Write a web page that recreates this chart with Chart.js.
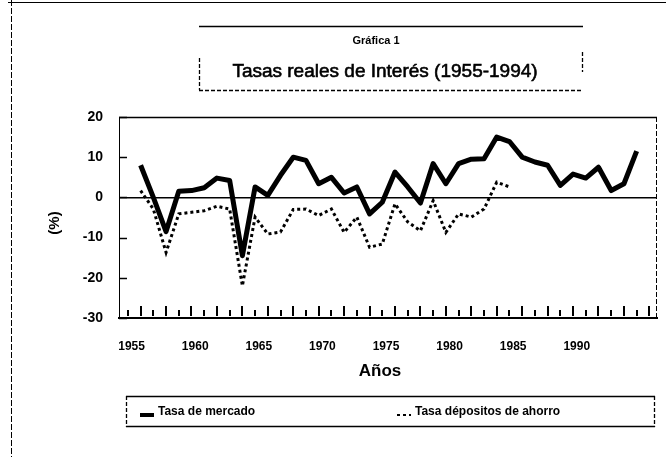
<!DOCTYPE html>
<html>
<head>
<meta charset="utf-8">
<script src="https://cdn.jsdelivr.net/npm/chart.js@4/dist/chart.umd.min.js"></script>
<style>
  html, body { margin: 0; padding: 0; background: #fff; }
  #wrap { width: 666px; height: 457px; position: relative; }
</style>
</head>
<body>
<div id="wrap"><canvas id="tasas"></canvas></div>
<script>
// ─── Data ─────────────────────────────────────────────────────────────
const YEARS = [1955, 1956, 1957, 1958, 1959, 1960, 1961, 1962, 1963, 1964,
               1965, 1966, 1967, 1968, 1969, 1970, 1971, 1972, 1973, 1974,
               1975, 1976, 1977, 1978, 1979, 1980, 1981, 1982, 1983, 1984,
               1985, 1986, 1987, 1988, 1989, 1990, 1991, 1992, 1993, 1994];

const TASA_MERCADO = [8, 0, -8.5, 1.5, 1.7, 2.4, 4.8, 4.2, -14.5, 2.6,
                      0.5, 5.5, 10, 9.2, 3.4, 5, 1.1, 2.6, -4.1, -1.2,
                      6.3, 2.6, -1.4, 8.4, 3.4, 8.4, 9.5, 9.6, 15, 13.9,
                      10, 8.8, 8, 3, 5.8, 4.8, 7.5, 1.7, 3.4, 11.5];

const TASA_AHORRO = [1.7, -2.9, -13.7, -4.1, -3.7, -3.3, -2.2, -2.9, -22, -4.9,
                     -9.1, -8.6, -3, -2.9, -4.5, -2.9, -8.7, -4.9, -12.4, -11.6,
                     -1.6, -6.1, -8.3, -0.8, -8.7, -4.1, -4.9, -2.9, 3.8, 2.6,
                     null, null, null, null, null, null, null, null, null, null];

const X_LABELS = [1955, 1960, 1965, 1970, 1975, 1980, 1985, 1990];
const Y_TICKS = [20, 10, 0, -10, -20, -30];

const FONT = "'Liberation Sans', Arial, sans-serif";
const FONT_N = "'Liberation Sans Narrow', 'Liberation Sans', Arial, sans-serif";

// ─── Decorations: frame, title box, inside ticks, legend box ──────────
const decor = {
    id: 'decor',
    afterDraw(chart) {
        const { ctx, chartArea: a, scales: { x, y } } = chart;
        ctx.save();
        ctx.strokeStyle = '#000';
        ctx.fillStyle = '#000';

        // page frame
        ctx.lineWidth = 1;
        ctx.beginPath(); ctx.moveTo(8, 2.5); ctx.lineTo(666, 2.5); ctx.stroke();
        ctx.setLineDash([6, 2]);
        ctx.beginPath(); ctx.moveTo(11.5, 0); ctx.lineTo(11.5, 457); ctx.stroke();
        ctx.setLineDash([]);

        // title box
        ctx.lineWidth = 1.3;
        ctx.beginPath(); ctx.moveTo(199, 26.5); ctx.lineTo(583, 26.5); ctx.stroke();
        ctx.setLineDash([4, 2]);
        ctx.beginPath(); ctx.moveTo(199, 90.5); ctx.lineTo(583, 90.5); ctx.stroke();
        ctx.beginPath(); ctx.moveTo(199.5, 58); ctx.lineTo(199.5, 90); ctx.stroke();
        ctx.beginPath(); ctx.moveTo(582.5, 52); ctx.lineTo(582.5, 72); ctx.stroke();
        ctx.setLineDash([]);
        ctx.textAlign = 'center';
        ctx.textBaseline = 'middle';
        ctx.font = 'bold 11px ' + FONT;
        ctx.fillText('Gráfica 1', 376, 41);
        ctx.font = '19px ' + FONT;
        ctx.lineWidth = 0.6;
        ctx.fillText('Tasas reales de Interés (1955-1994)', 385, 72);
        ctx.strokeText('Tasas reales de Interés (1955-1994)', 385, 72);

        // plot box: top solid, right dashed
        ctx.lineWidth = 1.5;
        ctx.beginPath(); ctx.moveTo(a.left, a.top + 0.5); ctx.lineTo(a.right, a.top + 0.5); ctx.stroke();
        ctx.lineWidth = 1;
        ctx.setLineDash([5, 2]);
        ctx.beginPath(); ctx.moveTo(a.right - 0.5, a.top); ctx.lineTo(a.right - 0.5, a.bottom); ctx.stroke();
        ctx.setLineDash([]);

        // inside ticks
        ctx.lineWidth = 1.5;
        Y_TICKS.forEach(v => {
            const py = Math.round(y.getPixelForValue(v)) + 0.5;
            ctx.beginPath(); ctx.moveTo(a.left, py); ctx.lineTo(a.left + 8, py); ctx.stroke();
        });
        ctx.lineWidth = 2;
        for (let yr = 1954; yr <= 1995; yr++) {
            const px = Math.round(x.getPixelForValue(yr));
            const h = yr % 2 ? 10 : 6;
            ctx.beginPath(); ctx.moveTo(px, a.bottom - 2); ctx.lineTo(px, a.bottom - 2 - h); ctx.stroke();
        }

        // axis titles
        ctx.font = 'bold 17px ' + FONT_N;
        ctx.fillText('Años', 380, 371);
        ctx.save();
        ctx.translate(55, 223);
        ctx.rotate(-Math.PI / 2);
        ctx.font = 'bold 15px ' + FONT;
        ctx.fillText('(%)', 0, 0);
        ctx.restore();

        // legend box
        const lb = { l: 126, t: 396, r: 655, b: 427 };
        ctx.lineWidth = 1.3;
        ctx.beginPath(); ctx.moveTo(lb.l, lb.t + 0.5); ctx.lineTo(lb.r, lb.t + 0.5); ctx.stroke();
        ctx.beginPath(); ctx.moveTo(lb.l, lb.b - 0.5); ctx.lineTo(lb.r, lb.b - 0.5); ctx.stroke();
        ctx.setLineDash([4, 2]);
        ctx.beginPath(); ctx.moveTo(lb.l + 0.5, lb.t); ctx.lineTo(lb.l + 0.5, lb.b); ctx.stroke();
        ctx.beginPath(); ctx.moveTo(lb.r - 0.5, lb.t); ctx.lineTo(lb.r - 0.5, lb.b); ctx.stroke();
        ctx.setLineDash([]);

        const ly = 412;
        const starts = [140, 397];
        ctx.textAlign = 'left';
        ctx.font = 'bold 12px ' + FONT_N;
        chart.data.datasets.forEach((d, i) => {
            const sx = starts[i];
            ctx.lineWidth = d.borderWidth - 1;
            ctx.setLineDash(d.borderDash || []);
            ctx.beginPath(); ctx.moveTo(sx, ly + 3); ctx.lineTo(sx + 14, ly + 3); ctx.stroke();
            ctx.setLineDash([]);
            ctx.fillText(d.label, sx + 18, ly);
        });
        ctx.restore();
    }
};

new Chart(document.getElementById('tasas'), {
    type: 'line',
    data: {
        labels: YEARS,
        datasets: [{
            label: 'Tasa de mercado',
            data: TASA_MERCADO,
            borderColor: '#000',
            borderWidth: 5,
            pointRadius: 0,
            tension: 0,
            borderJoinStyle: 'round'
        }, {
            label: 'Tasa dépositos de ahorro',
            data: TASA_AHORRO,
            borderColor: '#000',
            borderWidth: 3,
            borderDash: [3, 3],
            pointRadius: 0,
            tension: 0,
            spanGaps: false
        }]
    },
    plugins: [decor],
    options: {
        responsive: true,
        maintainAspectRatio: false,
        animation: false,
        layout: { padding: { left: 0, top: 117, right: 9, bottom: 94 } },
        plugins: {
            legend: { display: false },
            tooltip: { enabled: false }
        },
        scales: {
            x: {
                type: 'linear',
                min: 1953.3,
                max: 1995.6,
                afterBuildTicks: s => { s.ticks = X_LABELS.map(v => ({ value: v })); },
                afterFit: s => { s.height = 45; },
                grid: { display: false, drawTicks: false },
                border: { display: true, color: '#000', width: 2 },
                ticks: {
                    color: '#000',
                    font: { family: FONT_N, size: 12, weight: 'bold' },
                    padding: 21,
                    labelOffset: -9,
                    maxRotation: 0,
                    autoSkip: false,
                    callback: v => String(v)
                }
            },
            y: {
                min: -30,
                max: 20,
                afterBuildTicks: s => { s.ticks = Y_TICKS.map(v => ({ value: v })); },
                afterFit: s => { s.width = 119; },
                grid: {
                    drawTicks: false,
                    color: c => c.tick && c.tick.value === 0 ? '#000' : 'rgba(0,0,0,0)',
                    lineWidth: 1.5
                },
                border: { display: true, color: '#000', width: 1 },
                ticks: {
                    color: '#000',
                    font: { family: FONT_N, size: 14, weight: 'bold' },
                    padding: 16
                }
            }
        }
    }
});
</script>
</body>
</html>
